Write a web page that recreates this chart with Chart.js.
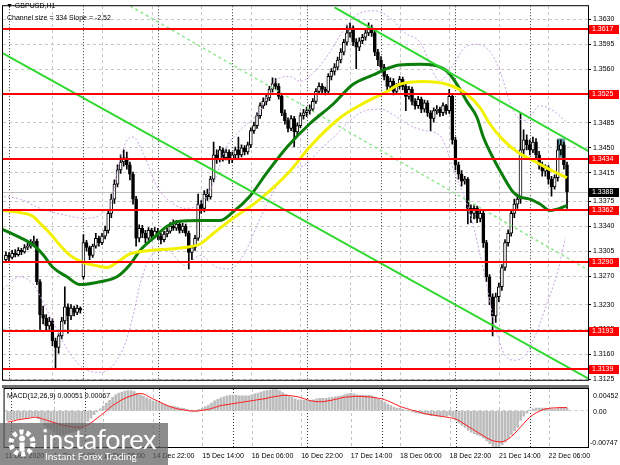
<!DOCTYPE html>
<html>
<head>
<meta charset="utf-8">
<script src="https://cdn.jsdelivr.net/npm/chart.js@4.4.0/dist/chart.umd.min.js"></script>
<style>
  html, body { margin: 0; padding: 0; background: #fff; }
  #wrap { position: relative; width: 620px; height: 465px; overflow: hidden; font-family: 'Liberation Sans', Arial, sans-serif; }
  canvas { position: absolute; left: 0; }
  #main { top: 0; }
  #macd { top: 386px; }
  #sep { position: absolute; left: 2px; top: 385px; width: 587px; height: 3px; background: #707070; }
  .info { position: absolute; font-size: 7px; line-height: 8px; color: #000; white-space: nowrap; }
  #wm { position: absolute; left: 0; top: 423px; width: 168px; height: 42px; background: rgba(95, 95, 95, 0.72); }
  #wm svg { position: absolute; left: 7px; top: 5px; }
  #wm1 { position: absolute; left: 42px; top: -1px; font-family: Lato, sans-serif; font-size: 27px; color: #fff; letter-spacing: -0.3px; }
  #wm2 { position: absolute; left: 45px; top: 27px; font-family: Lato, sans-serif; font-size: 10px; color: #fff; }
</style>
</head>
<body>
<div id="wrap">
  <canvas id="main" width="620" height="386"></canvas>
  <canvas id="macd" width="620" height="79"></canvas>
  <div id="sep"></div>
  <div class="info" style="left:6px; top:2px;">&#9660; GBPUSD,H1</div>
  <div class="info" style="left:7px; top:14px;">Channel size = 334 Slope = -2.52</div>
  <div class="info" style="left:7px; top:392px;">MACD(12,26,9) 0.00051 0.00067</div>
  <div id="wm">
    <svg width="30" height="30" viewBox="0 0 30 30">
      <circle cx="15" cy="15" r="11" fill="none" stroke="#fff" stroke-width="5" stroke-dasharray="4 3"/>
      <circle cx="15" cy="10.5" r="3" fill="#fff"/>
      <rect x="12.5" y="14.5" width="5" height="9" fill="#fff"/>
    </svg>
    <div id="wm1">instaforex</div>
    <div id="wm2">Instant Forex Trading</div>
  </div>
</div>
<script>
// H1 bars, index 0 = 11 Dec 00:00 (weekend skipped)
const firstBar = -1;
const firstOpen = 1.3293;
const gapBars = [24];
const gapOpens = [1.3269];

const closes = [
  1.3299, 1.3296, 1.3302, 1.3300, 1.3306, 1.3304, 1.3310, 1.3312, 1.3317, 1.3319,
  1.3262, 1.3216, 1.3211, 1.3200, 1.3207, 1.3179, 1.3170, 1.3186, 1.3207, 1.3227,
  1.3214, 1.3225, 1.3219, 1.3225, 1.3222,
  1.3317, 1.3310, 1.3299, 1.3312, 1.3323, 1.3317, 1.3326, 1.3334, 1.3358, 1.3378, 1.3399, 1.3419,
  1.3430, 1.3436, 1.3426, 1.3413, 1.3378, 1.3323, 1.3337, 1.3330, 1.3323, 1.3334, 1.3326, 1.3333,
  1.3326, 1.3321, 1.3329, 1.3333, 1.3340, 1.3337, 1.3343, 1.3334, 1.3340, 1.3330, 1.3303, 1.3310,
  1.3323, 1.3371, 1.3365, 1.3385, 1.3381, 1.3406, 1.3440, 1.3433, 1.3447, 1.3436, 1.3444, 1.3433,
  1.3440, 1.3447, 1.3440, 1.3450, 1.3444, 1.3454, 1.3474, 1.3481, 1.3495, 1.3509, 1.3515, 1.3520,
  1.3532, 1.3540, 1.3536, 1.3522, 1.3499, 1.3488, 1.3477, 1.3491, 1.3472, 1.3481, 1.3495, 1.3499,
  1.3502, 1.3504, 1.3515, 1.3529, 1.3536, 1.3532, 1.3529, 1.3550, 1.3557, 1.3563, 1.3573, 1.3584,
  1.3598, 1.3611, 1.3618, 1.3598, 1.3591, 1.3600, 1.3605, 1.3611, 1.3618, 1.3611, 1.3584, 1.3573,
  1.3563, 1.3550, 1.3536, 1.3543, 1.3529, 1.3536, 1.3546, 1.3536, 1.3522, 1.3532, 1.3515, 1.3509,
  1.3518, 1.3504, 1.3513, 1.3499, 1.3491, 1.3502, 1.3504, 1.3499, 1.3509, 1.3502, 1.3522, 1.3461,
  1.3426, 1.3413, 1.3403, 1.3406, 1.3365, 1.3358, 1.3365, 1.3351, 1.3358, 1.3317, 1.3269, 1.3241,
  1.3214, 1.3241, 1.3255, 1.3282, 1.3317, 1.3330, 1.3358, 1.3371, 1.3378, 1.3447, 1.3461, 1.3454,
  1.3447, 1.3458, 1.3440, 1.3426, 1.3417, 1.3422, 1.3406, 1.3395, 1.3408, 1.3447, 1.3454, 1.3426, 1.3388
];
const highs = [
  1.3304, 1.3303, 1.3306, 1.3307, 1.3310, 1.3309, 1.3314, 1.3317, 1.3321, 1.3326,
  1.3322, 1.3265, 1.3228, 1.3216, 1.3212, 1.3210, 1.3183, 1.3190, 1.3212, 1.3255,
  1.3231, 1.3230, 1.3228, 1.3229, 1.3227,
  1.3328, 1.3320, 1.3312, 1.3315, 1.3330, 1.3326, 1.3330, 1.3340, 1.3362, 1.3385, 1.3405, 1.3426,
  1.3440, 1.3447, 1.3444, 1.3430, 1.3416, 1.3382, 1.3342, 1.3341, 1.3334, 1.3338, 1.3337, 1.3338,
  1.3337, 1.3330, 1.3333, 1.3337, 1.3345, 1.3349, 1.3348, 1.3346, 1.3344, 1.3343, 1.3333, 1.3313,
  1.3327, 1.3385, 1.3376, 1.3390, 1.3392, 1.3410, 1.3458, 1.3447, 1.3452, 1.3450, 1.3448, 1.3447,
  1.3444, 1.3451, 1.3465, 1.3454, 1.3453, 1.3458, 1.3478, 1.3486, 1.3499, 1.3513, 1.3520, 1.3525,
  1.3536, 1.3548, 1.3547, 1.3540, 1.3525, 1.3503, 1.3492, 1.3495, 1.3494, 1.3485, 1.3499, 1.3504,
  1.3507, 1.3510, 1.3519, 1.3533, 1.3541, 1.3540, 1.3535, 1.3554, 1.3561, 1.3568, 1.3577, 1.3589,
  1.3602, 1.3622, 1.3625, 1.3621, 1.3603, 1.3604, 1.3609, 1.3615, 1.3625, 1.3622, 1.3614, 1.3588,
  1.3578, 1.3567, 1.3553, 1.3548, 1.3547, 1.3540, 1.3550, 1.3549, 1.3540, 1.3536, 1.3535, 1.3519,
  1.3522, 1.3521, 1.3517, 1.3516, 1.3502, 1.3506, 1.3509, 1.3507, 1.3513, 1.3511, 1.3532, 1.3525,
  1.3465, 1.3430, 1.3418, 1.3410, 1.3408, 1.3370, 1.3369, 1.3368, 1.3362, 1.3361, 1.3320, 1.3272,
  1.3245, 1.3246, 1.3260, 1.3286, 1.3321, 1.3335, 1.3362, 1.3378, 1.3385, 1.3498, 1.3475, 1.3468,
  1.3461, 1.3465, 1.3463, 1.3445, 1.3430, 1.3426, 1.3425, 1.3410, 1.3412, 1.3461, 1.3461, 1.3458, 1.3430
];
const lows = [
  1.3289, 1.3290, 1.3294, 1.3297, 1.3298, 1.3300, 1.3302, 1.3307, 1.3309, 1.3313,
  1.3258, 1.3195, 1.3203, 1.3192, 1.3195, 1.3172, 1.3140, 1.3162, 1.3182, 1.3203,
  1.3190, 1.3209, 1.3214, 1.3216, 1.3218,
  1.3266, 1.3305, 1.3293, 1.3296, 1.3309, 1.3312, 1.3314, 1.3322, 1.3330, 1.3352, 1.3372, 1.3395,
  1.3414, 1.3424, 1.3420, 1.3405, 1.3371, 1.3312, 1.3318, 1.3324, 1.3317, 1.3320, 1.3321, 1.3323,
  1.3321, 1.3315, 1.3318, 1.3325, 1.3330, 1.3334, 1.3334, 1.3330, 1.3331, 1.3326, 1.3280, 1.3293,
  1.3306, 1.3320, 1.3358, 1.3360, 1.3376, 1.3378, 1.3402, 1.3428, 1.3430, 1.3431, 1.3433, 1.3428,
  1.3429, 1.3436, 1.3436, 1.3437, 1.3440, 1.3441, 1.3450, 1.3470, 1.3477, 1.3491, 1.3505, 1.3510,
  1.3516, 1.3528, 1.3532, 1.3518, 1.3495, 1.3483, 1.3472, 1.3474, 1.3451, 1.3468, 1.3478, 1.3490,
  1.3494, 1.3497, 1.3501, 1.3512, 1.3525, 1.3527, 1.3524, 1.3526, 1.3545, 1.3552, 1.3559, 1.3569,
  1.3580, 1.3594, 1.3605, 1.3593, 1.3561, 1.3586, 1.3596, 1.3601, 1.3607, 1.3606, 1.3579, 1.3565,
  1.3557, 1.3545, 1.3530, 1.3532, 1.3524, 1.3525, 1.3532, 1.3531, 1.3502, 1.3518, 1.3510, 1.3504,
  1.3505, 1.3499, 1.3500, 1.3494, 1.3474, 1.3486, 1.3497, 1.3494, 1.3495, 1.3497, 1.3498, 1.3455,
  1.3419, 1.3406, 1.3396, 1.3399, 1.3343, 1.3345, 1.3350, 1.3345, 1.3346, 1.3310, 1.3262, 1.3230,
  1.3186, 1.3205, 1.3234, 1.3250, 1.3278, 1.3312, 1.3326, 1.3352, 1.3365, 1.3372, 1.3440, 1.3447,
  1.3440, 1.3443, 1.3434, 1.3420, 1.3410, 1.3410, 1.3399, 1.3382, 1.3392, 1.3403, 1.3440, 1.3420, 1.3365
];

// moving averages (bar, price)
const maYellowBars = [-2, 3.5, 7.7, 10, 13.2, 16.5, 19.7, 24, 27.7, 31.6, 34.8, 39, 45.5, 52, 56.8, 61.6, 66, 71.3, 81, 90.6, 97, 106.8, 115.5, 122, 126, 133.5, 141.3, 147.7, 152, 155, 159.4, 164, 170, 175.5, 180];
const maYellow = [1.3362, 1.3359, 1.3354, 1.3344, 1.3330, 1.3313, 1.3299, 1.3289, 1.3285, 1.3282, 1.3289, 1.3301, 1.3306, 1.3308, 1.3310, 1.3315, 1.3330, 1.3348, 1.3378, 1.3417, 1.3451, 1.3492, 1.3515, 1.3529, 1.3539, 1.3543, 1.3539, 1.3525, 1.3506, 1.3484, 1.3461, 1.3444, 1.3430, 1.3417, 1.3408];
const maGreenBars = [-2.9, 2.6, 7.7, 11, 14.2, 18.7, 22.9, 29.4, 34.8, 39, 42.3, 46.5, 51, 55.2, 61.6, 68, 72.3, 77.7, 83.2, 89.7, 97.1, 104.5, 111, 117.4, 122, 126, 132.6, 136.8, 141.3, 144.5, 147.7, 151, 153, 156, 159.4, 162.6, 164.8, 168, 171.3, 174.5, 177.7, 180];
const maGreen = [1.3337, 1.3326, 1.3314, 1.3300, 1.3282, 1.3269, 1.3258, 1.3262, 1.3269, 1.3286, 1.3306, 1.3323, 1.3340, 1.3347, 1.3348, 1.3348, 1.3360, 1.3382, 1.3415, 1.3451, 1.3484, 1.3511, 1.3539, 1.3552, 1.3561, 1.3566, 1.3567, 1.3566, 1.3557, 1.3539, 1.3515, 1.3492, 1.3465, 1.3437, 1.3410, 1.3388, 1.3381, 1.3378, 1.3371, 1.3362, 1.3365, 1.3369];

// envelope bands
const bandUpperBars = [-2.9, 3.5, 10, 18.7, 23.9, 32.6, 35.8, 38.1, 40, 43.2, 47.7, 51, 56.8, 61.6, 66.5, 69.7, 74.5, 81, 85.8, 90.6, 93.9, 98.7, 103.5, 108.4, 113.2, 118.1, 122.9, 127.7, 132.6, 139, 143.9, 147.1, 151.3, 155.8, 158.4, 162.6, 166.5, 171.3, 175.5, 180];
const bandUpper = [1.3382, 1.3378, 1.3365, 1.3355, 1.3351, 1.3369, 1.3433, 1.3461, 1.3465, 1.3443, 1.3396, 1.3378, 1.3365, 1.3371, 1.3406, 1.3447, 1.3474, 1.3502, 1.3543, 1.3550, 1.3543, 1.3557, 1.3584, 1.3618, 1.3639, 1.3642, 1.3632, 1.3611, 1.3598, 1.3544, 1.3570, 1.3591, 1.3595, 1.3581, 1.3557, 1.3502, 1.3488, 1.3509, 1.3502, 1.3485];
const bandLowerBars = [-2.9, 3.5, 7.7, 13.2, 18.7, 23.9, 29.4, 36.8, 40, 42.3, 45.5, 51, 56.8, 61.6, 67.1, 71.3, 76.1, 81, 85.8, 90.6, 95.5, 100.3, 105.2, 110, 114.8, 119.7, 124.5, 129.4, 134.2, 139, 143.9, 148.7, 153.5, 156.8, 160, 163.2, 166.5, 169.7, 173.5, 177.1, 179.4];
const bandLower = [1.3248, 1.3269, 1.3259, 1.3214, 1.3168, 1.3141, 1.3135, 1.3168, 1.3214, 1.3259, 1.3296, 1.3306, 1.3285, 1.3299, 1.3282, 1.3280, 1.3303, 1.3351, 1.3392, 1.3419, 1.3426, 1.3447, 1.3467, 1.3488, 1.3502, 1.3504, 1.3495, 1.3481, 1.3474, 1.3467, 1.3413, 1.3358, 1.3269, 1.3200, 1.3159, 1.3152, 1.3159, 1.3186, 1.3231, 1.3278, 1.3323];

// channel (two end points each)
const channelUpperBars = [105, 187];
const channelUpper = [1.3647, 1.3445];
const channelLowerBars = [-3, 187];
const channelLower = [1.3585, 1.3126];
const channelMidBars = [37.4, 187];
const channelMid = [1.3653, 1.3278];

const levels = [1.3617, 1.3525, 1.3434, 1.3362, 1.3290, 1.3193, 1.3139];
const lastPrice = 1.3388;
const boxBars = [176.9, 179.4];
const boxPrices = [1.3463, 1.3436];

const priceTicks = [1.3125, 1.3160, 1.3195, 1.3230, 1.3270, 1.3305, 1.3340, 1.3375, 1.3415, 1.3450, 1.3485, 1.3525, 1.3560, 1.3595, 1.3630];

// MACD(12,26,9)
const macdMain = [
  -0.0020, -0.0019, -0.0018, -0.0017, -0.0016, -0.0015, -0.0014, -0.0013, -0.0012, -0.0011,
  -0.0016, -0.0024, -0.0030, -0.0035, -0.0039, -0.0044, -0.0049, -0.0051, -0.0050, -0.0047, -0.0046, -0.0044, -0.0042, -0.0040, -0.0038,
  -0.0030, -0.0022, -0.0015, -0.0008, -0.0002, 0.0004, 0.0010, 0.0016, 0.0022, 0.0028, 0.0033, 0.0037,
  0.0039, 0.0041, 0.0042, 0.0042, 0.0040, 0.0036, 0.0033, 0.0030, 0.0027, 0.0024, 0.0021, 0.0019,
  0.0017, 0.0015, 0.0013, 0.0011, 0.0010, 0.0009, 0.0008, 0.0006, 0.0005, 0.0003, -0.0001, -0.0002,
  -0.0002, 0.0003, 0.0006, 0.0009, 0.0012, 0.0016, 0.0021, 0.0024, 0.0027, 0.0029, 0.0031, 0.0032,
  0.0032, 0.0032, 0.0031, 0.0031, 0.0031, 0.0031, 0.0033, 0.0035, 0.0037, 0.0039, 0.0041, 0.0042,
  0.0043, 0.0044, 0.0044, 0.0042, 0.0038, 0.0034, 0.0030, 0.0028, 0.0025, 0.0023, 0.0023, 0.0022,
  0.0022, 0.0022, 0.0023, 0.0025, 0.0026, 0.0026, 0.0026, 0.0027, 0.0028, 0.0029, 0.0030, 0.0031,
  0.0033, 0.0035, 0.0036, 0.0035, 0.0033, 0.0032, 0.0032, 0.0032, 0.0032, 0.0031, 0.0028, 0.0025,
  0.0022, 0.0018, 0.0014, 0.0011, 0.0008, 0.0006, 0.0005, 0.0003, 0.0001, 0.0000, -0.0002, -0.0004,
  -0.0005, -0.0006, -0.0007, -0.0008, -0.0010, -0.0010, -0.0011, -0.0011, -0.0011, -0.0011, -0.0009, -0.0013,
  -0.0019, -0.0025, -0.0030, -0.0034, -0.0040, -0.0044, -0.0047, -0.0050, -0.0052, -0.0056, -0.0062, -0.0068,
  -0.0073, -0.00747, -0.0074, -0.0070, -0.0064, -0.0057, -0.0049, -0.0041, -0.0034, -0.0020, -0.0011, -0.0005,
  0.0001, 0.0004, 0.0006, 0.0006, 0.0006, 0.0006, 0.0005, 0.0004, 0.0003, 0.0005, 0.0007, 0.0007, 0.00051
];
const macdSignal = [
  -0.0023, -0.0022, -0.0021, -0.0019, -0.0018, -0.0017, -0.0016, -0.0015, -0.0014, -0.0013,
  -0.0014, -0.0016, -0.0018, -0.0020, -0.0022, -0.0024, -0.0026, -0.0028, -0.0030, -0.0031, -0.0032, -0.0033, -0.0034, -0.0034, -0.0034,
  -0.0032, -0.0029, -0.0025, -0.0020, -0.0015, -0.0010, -0.0005, 0.0000, 0.0006, 0.0011, 0.0015, 0.0019,
  0.0023, 0.0026, 0.0029, 0.0031, 0.0033, 0.0035, 0.0036, 0.0035, 0.0032, 0.0028, 0.0025, 0.0022,
  0.0019, 0.0016, 0.0013, 0.0010, 0.0008, 0.0006, 0.0004, 0.0003, 0.0002, 0.0001, 0.0000, 0.0000,
  0.0000, 0.0000, 0.0001, 0.0002, 0.0003, 0.0005, 0.0007, 0.0009, 0.0011, 0.0012, 0.0013, 0.0014,
  0.0015, 0.0016, 0.0017, 0.0018, 0.0019, 0.0020, 0.0021, 0.0022, 0.0023, 0.0024, 0.0025, 0.0026,
  0.0028, 0.0029, 0.0030, 0.0031, 0.0032, 0.0032, 0.0032, 0.0031, 0.0030, 0.0029, 0.0027, 0.0025,
  0.0023, 0.0021, 0.0020, 0.0019, 0.0019, 0.0019, 0.0020, 0.0021, 0.0022, 0.0024, 0.0025, 0.0027,
  0.0028, 0.0029, 0.0029, 0.0030, 0.0030, 0.0030, 0.0030, 0.0029, 0.0029, 0.0028, 0.0027, 0.0026,
  0.0025, 0.0023, 0.0021, 0.0018, 0.0015, 0.0012, 0.0009, 0.0007, 0.0005, 0.0003, 0.0001, 0.0000,
  -0.0002, -0.0004, -0.0006, -0.0007, -0.0008, -0.0009, -0.0010, -0.0011, -0.0012, -0.0013, -0.0014, -0.0015,
  -0.0017, -0.0020, -0.0024, -0.0028, -0.0032, -0.0036, -0.0040, -0.0044, -0.0048, -0.0052, -0.0056, -0.0059,
  -0.0062, -0.0063, -0.0064, -0.0064, -0.0062, -0.0058, -0.0053, -0.0047, -0.0040, -0.0033, -0.0026, -0.0019,
  -0.0013, -0.0008, -0.0004, -0.0001, 0.0002, 0.0004, 0.0005, 0.0006, 0.0006, 0.00067, 0.00067, 0.00067, 0.00067
];
const macdMax = 0.00452;
const macdMin = -0.00747;

const timeBars = [-1.8, 14, 30, 46, 62, 78, 94, 110, 126, 142, 158, 174];
const timeLabels = ['11 Dec 2020', '11 Dec 14:00', '14 Dec 06:00', '14 Dec 22:00', '15 Dec 14:00', '16 Dec 06:00',
  '16 Dec 22:00', '17 Dec 14:00', '18 Dec 06:00', '18 Dec 22:00', '21 Dec 14:00', '22 Dec 06:00'];
const gridBars = [14, 30, 46, 62, 78, 94, 110, 126, 142, 158, 174];
const separatorBars = [0, 24, 48, 72, 96, 120, 144, 168];

const xMin = -1.94, xMax = 186.77;
const FONT = '7px "Liberation Sans", Arial, sans-serif';

const bars = closes.map((_, k) => firstBar + k);
const opens = closes.map((c, k) => {
  const g = gapBars.indexOf(bars[k]);
  if (g >= 0) return gapOpens[g];
  return k === 0 ? firstOpen : closes[k - 1];
});

function pts(xs, ys) {
  return xs.map((x, k) => ({ x: x, y: ys[k] }));
}

function line(ctx, x1, y1, x2, y2) {
  ctx.beginPath(); ctx.moveTo(x1, y1); ctx.lineTo(x2, y2); ctx.stroke();
}

function drawVerticals(ctx, x, a) {
  ctx.lineWidth = 1;
  ctx.strokeStyle = '#c4c4c4';
  ctx.setLineDash([3, 3]);
  gridBars.forEach(b => {
    const p = Math.round(x.getPixelForValue(b)) + 0.5;
    line(ctx, p, a.top, p, a.bottom);
  });
  ctx.strokeStyle = '#333';
  ctx.setLineDash([1, 2]);
  separatorBars.forEach(b => {
    const p = Math.round(x.getPixelForValue(b)) + 0.5;
    line(ctx, p, a.top, p, a.bottom);
  });
  ctx.setLineDash([]);
}

function drawFrame(ctx, a) {
  ctx.strokeStyle = '#000';
  ctx.lineWidth = 1;
  ctx.setLineDash([]);
  ctx.strokeRect(a.left - 0.5, a.top - 0.5, a.right - a.left + 1, a.bottom - a.top + 1);
}

function axisLabel(ctx, text, yPix, bg) {
  ctx.fillStyle = bg;
  ctx.fillRect(589, Math.round(yPix) - 4, 30, 9);
  ctx.fillStyle = '#fff';
  ctx.font = FONT;
  ctx.textBaseline = 'middle';
  ctx.textAlign = 'left';
  ctx.fillText(text, 592, Math.round(yPix) + 0.5);
}

const mainDecor = {
  id: 'mainDecor',
  beforeDatasetsDraw(chart) {
    const { ctx, chartArea: a, scales: { x, y } } = chart;
    ctx.save();
    ctx.beginPath(); ctx.rect(a.left, a.top, a.right - a.left, a.bottom - a.top); ctx.clip();
    drawVerticals(ctx, x, a);
    const bx0 = x.getPixelForValue(boxBars[0]), bx1 = x.getPixelForValue(boxBars[1]);
    const by0 = y.getPixelForValue(boxPrices[0]), by1 = y.getPixelForValue(boxPrices[1]);
    ctx.fillStyle = '#5f9ea8';
    ctx.fillRect(bx0, by0, bx1 - bx0, by1 - by0);
    const yb = Math.round(y.getPixelForValue(lastPrice)) + 0.5;
    ctx.strokeStyle = '#bdbdbd';
    line(ctx, a.left, yb, a.right, yb);
    ctx.restore();
  },
  afterDatasetsDraw(chart) {
    const { ctx, chartArea: a, scales: { y } } = chart;
    ctx.save();
    ctx.strokeStyle = '#ff0000';
    ctx.lineWidth = 2;
    levels.forEach(v => {
      const p = Math.round(y.getPixelForValue(v));
      line(ctx, a.left, p, a.right, p);
    });
    ctx.restore();
  },
  afterDraw(chart) {
    const { ctx, chartArea: a, scales: { y } } = chart;
    ctx.save();
    drawFrame(ctx, a);
    levels.forEach(v => axisLabel(ctx, v.toFixed(4), y.getPixelForValue(v), '#ff0000'));
    axisLabel(ctx, lastPrice.toFixed(4), y.getPixelForValue(lastPrice), '#000');
    ctx.restore();
  }
};

const macdDecor = {
  id: 'macdDecor',
  beforeDatasetsDraw(chart) {
    const { ctx, chartArea: a, scales: { x } } = chart;
    ctx.save();
    drawVerticals(ctx, x, a);
    ctx.restore();
  },
  afterDraw(chart) {
    const { ctx, chartArea: a, scales: { y } } = chart;
    ctx.save();
    drawFrame(ctx, a);
    ctx.fillStyle = '#000';
    ctx.font = FONT;
    ctx.textAlign = 'left';
    ctx.textBaseline = 'middle';
    ctx.fillText(macdMax.toFixed(5), 593, a.top + 7);
    ctx.fillText('0.00', 593, y.getPixelForValue(0) + 1);
    ctx.fillText(macdMin.toFixed(5), 590, a.bottom - 4);
    ctx.restore();
  }
};

const lineDs = (data, color, width, extra) => Object.assign({
  type: 'line', data: data, borderColor: color, borderWidth: width,
  pointRadius: 0, fill: false, order: 1
}, extra || {});

new Chart(document.getElementById('main'), {
  type: 'bar',
  data: {
    datasets: [
      lineDs(pts(channelMidBars, channelMid), '#8fe68f', 1.5, { borderDash: [3, 3], order: 3 }),
      lineDs(pts(bandUpperBars, bandUpper), '#c9a3e3', 1, { borderDash: [2, 2], cubicInterpolationMode: 'monotone', order: 3 }),
      lineDs(pts(bandLowerBars, bandLower), '#c9a3e3', 1, { borderDash: [2, 2], cubicInterpolationMode: 'monotone', order: 3 }),
      {
        type: 'bar',
        data: bars.map((b, k) => ({ x: b, y: [lows[k], highs[k]] })),
        backgroundColor: '#000',
        barThickness: 1,
        grouped: false,
        order: 6
      },
      {
        type: 'bar',
        data: bars.map((b, k) => ({ x: b, y: [opens[k], closes[k]] })),
        backgroundColor: c => (c.raw && c.raw.y[1] > c.raw.y[0]) ? '#fff' : '#000',
        borderColor: '#000',
        borderWidth: 1,
        borderSkipped: false,
        barThickness: 3,
        grouped: false,
        order: 5
      },
      lineDs(pts(maYellowBars, maYellow), '#f2f200', 3, { cubicInterpolationMode: 'monotone', order: 2 }),
      lineDs(pts(maGreenBars, maGreen), '#0b7d0b', 3, { cubicInterpolationMode: 'monotone', order: 2 }),
      lineDs(pts(channelUpperBars, channelUpper), '#2fd82f', 2, { order: 1 }),
      lineDs(pts(channelLowerBars, channelLower), '#2fd82f', 2, { order: 1 })
    ]
  },
  options: {
    responsive: false,
    animation: false,
    events: [],
    layout: { padding: { left: 3, top: 3, right: 0, bottom: 2 } },
    plugins: { legend: { display: false }, tooltip: { enabled: false } },
    scales: {
      x: { type: 'linear', min: xMin, max: xMax, offset: false, display: false },
      y: {
        position: 'right',
        min: 1.31245,
        max: 1.36485,
        afterFit: s => { s.width = 32; },
        afterBuildTicks: s => { s.ticks = priceTicks.map(v => ({ value: v })); },
        ticks: {
          autoSkip: false,
          color: '#000',
          font: { family: '"Liberation Sans", Arial, sans-serif', size: 7 },
          padding: 2,
          callback: v => Number(v).toFixed(4)
        },
        grid: { color: '#c8c8c8', tickColor: '#000', tickLength: 3, drawTicks: true },
        border: { display: false, dash: [3, 3] }
      }
    }
  },
  plugins: [mainDecor]
});

new Chart(document.getElementById('macd'), {
  type: 'bar',
  data: {
    datasets: [
      {
        type: 'bar',
        data: bars.map((b, k) => ({ x: b, y: macdMain[k] })),
        backgroundColor: '#bcbcbc',
        barThickness: 2,
        grouped: false,
        order: 2
      },
      lineDs(bars.map((b, k) => ({ x: b, y: macdSignal[k] })), '#ff1a1a', 1, { order: 1 })
    ]
  },
  options: {
    responsive: false,
    animation: false,
    events: [],
    layout: { padding: { left: 3, top: 3, right: 0, bottom: 0 } },
    plugins: { legend: { display: false }, tooltip: { enabled: false } },
    scales: {
      x: {
        type: 'linear',
        min: xMin,
        max: xMax,
        offset: false,
        position: 'bottom',
        afterFit: s => { s.height = 18; },
        afterBuildTicks: s => { s.ticks = timeBars.map(v => ({ value: v })); },
        ticks: {
          autoSkip: false,
          maxRotation: 0,
          align: 'start',
          color: '#000',
          padding: 5,
          font: { family: '"Liberation Sans", Arial, sans-serif', size: 7 },
          callback: (v, i) => timeLabels[i]
        },
        grid: { display: false, drawTicks: false },
        border: { display: false }
      },
      y: {
        position: 'right',
        min: macdMin,
        max: macdMax,
        afterFit: s => { s.width = 32; },
        afterBuildTicks: s => { s.ticks = [{ value: 0 }]; },
        ticks: { display: false },
        grid: { color: '#c8c8c8', drawTicks: false },
        border: { display: false, dash: [3, 3] }
      }
    }
  },
  plugins: [macdDecor]
});
</script>
</body>
</html>
